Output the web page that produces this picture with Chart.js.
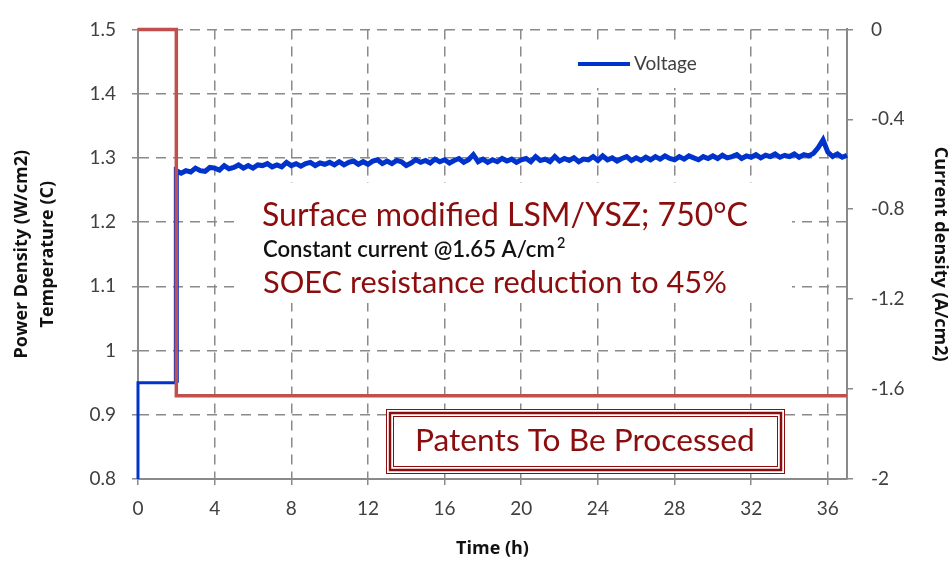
<!DOCTYPE html>
<html>
<head>
<meta charset="utf-8">
<script src="https://cdn.jsdelivr.net/npm/chart.js@4.4.1/dist/chart.umd.min.js"></script>
<style>
  html, body { margin: 0; padding: 0; background: #fff; }
  #wrap { width: 951px; height: 563px; }
</style>
</head>
<body>
<div id="wrap"><canvas id="chart" width="951" height="563"></canvas></div>
<script>
// start-up step of the voltage trace (h, V)
const startTime = [0, 0, 2];
const startVoltage = [0.8, 0.95, 0.95];

// voltage under constant current, one sample every 0.25 h from 2 h
const voltageStart = 2;
const voltageStep = 0.25;
const voltage = [
  1.280,1.276,1.280,1.278,1.284,1.280,1.279,1.285,1.284,1.281,1.288,1.283,1.285,1.289,1.284,1.288,
  1.284,1.289,1.288,1.291,1.286,1.289,1.286,1.293,1.288,1.291,1.287,1.291,1.293,1.288,1.292,1.290,
  1.293,1.289,1.294,1.289,1.293,1.295,1.290,1.294,1.290,1.295,1.297,1.291,1.295,1.291,1.296,1.294,
  1.288,1.292,1.297,1.293,1.296,1.292,1.298,1.294,1.297,1.292,1.296,1.299,1.293,1.297,1.305,1.294,
  1.298,1.293,1.297,1.294,1.299,1.295,1.298,1.293,1.297,1.299,1.294,1.302,1.296,1.298,1.294,1.302,
  1.295,1.299,1.296,1.300,1.294,1.298,1.297,1.302,1.296,1.303,1.297,1.300,1.295,1.299,1.302,1.296,
  1.300,1.296,1.301,1.297,1.302,1.298,1.303,1.299,1.297,1.302,1.298,1.303,1.300,1.297,1.302,1.299,
  1.303,1.299,1.304,1.300,1.302,1.305,1.299,1.303,1.301,1.305,1.300,1.304,1.302,1.306,1.301,1.304,
  1.302,1.306,1.301,1.305,1.303,1.307,1.316,1.328,1.309,1.302,1.306,1.301,1.304
];

// current density (h, A/cm2)
const currentTime = [0, 2, 2, 37];
const currentDensity = [0, 0, -1.63, -1.63];

const voltagePoints = startTime.map((t, i) => ({ x: t, y: startVoltage[i] }))
  .concat(voltage.map((v, i) => ({ x: voltageStart + i * voltageStep, y: v })));
const currentPoints = currentTime.map((t, i) => ({ x: t, y: currentDensity[i] }));

const tickFont = { family: 'Lato', size: 19 };
const titleFont = { family: 'Open Sans', size: 18, weight: 'bold' };
const gridColor = '#8a8a8a';
const darkRed = '#8b0d0d';

function fitText(ctx, str, x, y, width, weight, color) {
  ctx.font = weight + ' 100px Lato';
  const size = 100 * width / ctx.measureText(str).width;
  ctx.font = weight + ' ' + size + 'px Lato';
  ctx.fillStyle = color;
  ctx.textAlign = 'left';
  ctx.textBaseline = 'middle';
  ctx.fillText(str, x, y);
  return size;
}

// notes, legend and the patents box
const notes = {
  id: 'notes',
  afterDatasetsDraw(chart) {
    const ctx = chart.ctx;
    ctx.save();
    ctx.fillStyle = '#fff';
    ctx.fillRect(240, 183, 552, 120);
    ctx.fillRect(560, 42, 185, 46);

    // legend
    const ds = chart.data.datasets[1];
    ctx.strokeStyle = ds.borderColor;
    ctx.lineWidth = 4;
    ctx.beginPath();
    ctx.moveTo(578, 64);
    ctx.lineTo(630, 64);
    ctx.stroke();
    ctx.font = '19px Lato';
    ctx.fillStyle = '#404040';
    ctx.textBaseline = 'middle';
    ctx.fillText(ds.label, 634, 64);

    fitText(ctx, 'Surface modified LSM/YSZ; 750°C', 262, 216, 486, 'normal', darkRed);
    const s = fitText(ctx, 'Constant current @1.65 A/cm', 263, 250, 292, '600', '#111');
    ctx.font = '600 ' + (s * 0.65) + 'px Lato';
    ctx.fillText('2', 557, 243);
    fitText(ctx, 'SOEC resistance reduction to 45%', 263, 283, 464, 'normal', darkRed);

    // triple-line box
    ctx.fillStyle = '#fff';
    ctx.fillRect(386, 409, 399, 65);
    ctx.strokeStyle = darkRed;
    ctx.lineWidth = 1;
    ctx.strokeRect(386.5, 409.5, 398, 64);
    ctx.lineWidth = 2.5;
    ctx.strokeRect(390, 413, 391, 57);
    ctx.lineWidth = 1;
    ctx.strokeRect(393.5, 416.5, 384, 50);
    fitText(ctx, 'Patents To Be Processed', 415, 441, 340, 'normal', darkRed);
    ctx.restore();
  }
};

const fmt = v => String(+Number(v).toFixed(1));

new Chart(document.getElementById('chart'), {
  type: 'line',
  data: {
    datasets: [
      {
        label: 'Current density',
        data: currentPoints,
        yAxisID: 'y1',
        borderColor: '#c0504d',
        borderWidth: 3.5,
        pointRadius: 0,
        tension: 0,
        clip: 6
      },
      {
        label: 'Voltage',
        data: voltagePoints,
        yAxisID: 'y',
        borderColor: '#0033cc',
        borderWidth: 5,
        segment: { borderWidth: c => c.p0DataIndex < 2 ? 3 : 5 },
        pointRadius: 0,
        tension: 0,
        clip: 6
      }
    ]
  },
  options: {
    responsive: false,
    animation: false,
    layout: { padding: { top: 18, left: 0, right: 0, bottom: 0 } },
    plugins: { legend: { display: false }, tooltip: { enabled: false } },
    scales: {
      x: {
        type: 'linear',
        min: 0,
        max: 37,
        afterFit: s => { s.height = 84; },
        ticks: { stepSize: 4, includeBounds: false, font: tickFont, color: '#404040', padding: 12, maxRotation: 0 },
        grid: { color: gridColor, lineWidth: 1.5, tickLength: 6, tickBorderDash: [] },
        border: { display: true, color: gridColor, width: 2, dash: [10, 7] },
        title: { display: true, text: 'Time (h)', font: titleFont, color: '#111', padding: { top: 0, bottom: 3 } }
      },
      y: {
        position: 'left',
        min: 0.8,
        max: 1.5,
        afterFit: s => { s.width = 138; },
        ticks: { stepSize: 0.1, font: tickFont, color: '#404040', padding: 16, callback: fmt },
        grid: { color: gridColor, lineWidth: 1.5, tickLength: 6, tickBorderDash: [] },
        border: { display: true, color: gridColor, width: 2, dash: [10, 7] },
        title: {
          display: true,
          text: ['Power Density (W/cm2)', 'Temperature (C)'],
          font: { family: 'Open Sans', size: 18, weight: 'bold', lineHeight: '26px' },
          color: '#111',
          padding: { top: 9, bottom: 0 }
        }
      },
      y1: {
        position: 'right',
        min: -2,
        max: 0,
        afterFit: s => { s.width = 104; },
        ticks: { stepSize: 0.4, font: tickFont, color: '#404040', padding: 18, callback: fmt },
        grid: { drawOnChartArea: false, color: gridColor, lineWidth: 1.5, tickLength: 6 },
        border: { display: true, color: gridColor, width: 2 },
        title: { display: true, text: 'Current density (A/cm2)', font: titleFont, color: '#111', padding: { top: 0, bottom: 0 } }
      }
    }
  },
  plugins: [notes]
});
</script>
</body>
</html>
